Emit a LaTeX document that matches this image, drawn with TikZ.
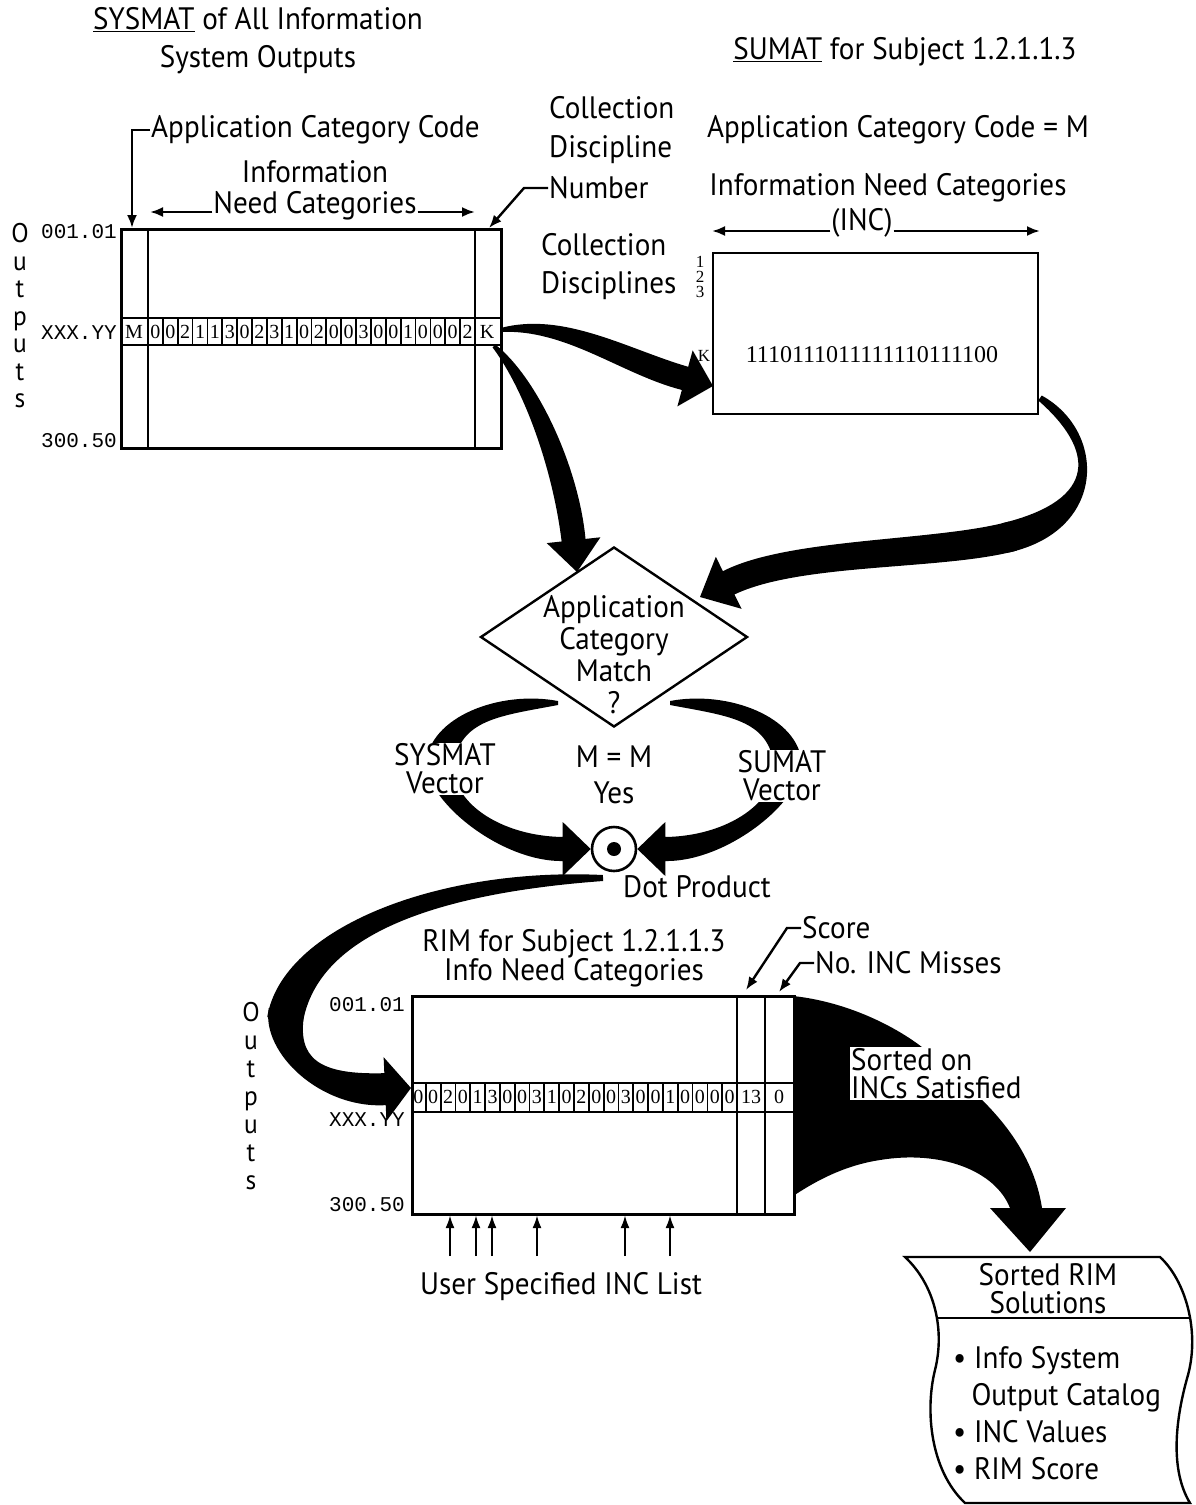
\documentclass[tikz,border=0pt]{standalone}
\usepackage{fontspec}
\setmainfont{PT Sans}[FakeStretch=0.94]
\newfontfamily\cellfont{Liberation Serif}
\newfontfamily\rowfont{Liberation Mono}
\usetikzlibrary{arrows.meta,calc,shapes.geometric}

\tikzset{
  lbl/.style={inner sep=1pt, font=\fontsize{31}{#1}\selectfont},
  lbl/.default=34,
  vert/.style={inner sep=0pt, align=center, font=\fontsize{27}{#1}\selectfont},
  box/.style={draw, line width=2.6pt, inner sep=0pt},
  cellline/.style={line width=2.2pt},
  cell/.style={inner sep=0pt, font=\cellfont\fontsize{20}{20}\selectfont},
  small/.style={inner sep=0pt, font=\cellfont\fontsize{17}{15}\selectfont},
  vecfont/.style={inner sep=0pt, font=\cellfont\fontsize{24}{24}\selectfont},
  rowlbl/.style={inner sep=1pt, font=\rowfont\fontsize{21}{21}\selectfont},
  leader/.style={line width=2.4pt, -{Latex[length=13pt,width=10pt]}},
  onarrow/.style={fill=white, inner sep=1pt},
}

% tapered curved arrow: start, control, control, tip, widths w0/w1/w2/w3, head hw/hl
\def\endfat{}
\def\fathead#1/#2\endfat{\def\fathw{#1}\def\fathl{#2}}
\newcommand\fatarrow[6]{\fatarrowi{#1}{#2}{#3}{#4}#5/#6\endfat}
\def\fatarrowi#1#2#3#4#5/#6/#7/#8/#9\endfat{%
  \fathead#9\endfat
  \coordinate (fb) at ($(#4)!\fathl pt!(#3)$);
  \fill ($(#1)!#5pt!90:(#2)$) .. controls ($(#2)!#6pt!-90:(#1)$) and ($(#3)!#7pt!90:(fb)$) .. ($(fb)!#8pt!-90:(#3)$)
    -- ($(fb)!\fathw pt!-90:(#3)$) -- (#4) -- ($(fb)!\fathw pt!90:(#3)$)
    -- ($(fb)!#8pt!90:(#3)$) .. controls ($(#3)!#7pt!-90:(fb)$) and ($(#2)!#6pt!90:(#1)$) .. ($(#1)!#5pt!-90:(#2)$) -- cycle;}
% tapered curved band without a head
\newcommand\fatseg[5]{\fatsegi{#1}{#2}{#3}{#4}#5\endfat}
\def\fatsegi#1#2#3#4#5/#6/#7/#8\endfat{%
  \fill ($(#1)!#5pt!90:(#2)$) .. controls ($(#2)!#6pt!-90:(#1)$) and ($(#3)!#7pt!90:(#4)$) .. ($(#4)!#8pt!-90:(#3)$)
    -- ($(#4)!#8pt!90:(#3)$) .. controls ($(#3)!#7pt!-90:(#4)$) and ($(#2)!#6pt!90:(#1)$) .. ($(#1)!#5pt!-90:(#2)$) -- cycle;}

\begin{document}
\begin{tikzpicture}[x=1pt,y=-1pt]
    \useasboundingbox (0,0) rectangle (1196,1505);
    \fill[white] (0,0) rectangle (1196,1505);

    % titles
    \node[lbl=38, align=center] (systitle) at (258,41) {\underline{SYSMAT} of All Information\\System Outputs};
    \node[lbl] (sumattitle) at (905,52) {\underline{SUMAT} for Subject 1.2.1.1.3};

    % SYSMAT matrix
    \node[box, minimum width=380pt, minimum height=219pt, anchor=north west] (sysmat) at (120,228) {};
    \draw[cellline] (148,228) -- (148,447);
    \draw[cellline] (475,228) -- (475,447);
    \draw[cellline] (120,318) -- (500,318);
    \draw[cellline] (120,345) -- (500,345);
    \node[cell] (sysMcell) at (134,332) {M};
    \node[cell] (sysKcell) at (487,332) {K};
    \foreach \digit [count=\i] in {0,0,2,1,1,3,0,2,3,1,0,2,0,0,3,0,0,1,0,0,0,2} {
        \draw[line width=1.8pt] ({148+\i*14.864},318) -- ({148+\i*14.864},345);
        \node[cell] (sys\i) at ({148+(\i-0.5)*14.864},332) {\digit};
    }
    \node[rowlbl, anchor=east] (sysfirst) at (118,232) {001.01};
    \node[rowlbl, anchor=east] (sysrow) at (118,333) {XXX.YY};
    \node[rowlbl, anchor=east] (syslast) at (118,441) {300.50};
    \node[vert=27.5] (sysout) at (20,316) {O\\u\\t\\p\\u\\t\\s};

    % SYSMAT labels
    \coordinate (sysMtop) at (132,228);
    \coordinate (sysKtop) at (489,228);
    \node[lbl, anchor=west] (appcode) at (150,130) {Application Category Code};
    \draw[leader] (appcode.west) -- ++(-18,0) -- (sysMtop);
    \node[lbl] (infotxt) at (315,172) {Information};
    \node[lbl] (needcat) at (315,206) {Need Categories};
    \draw[leader] ([yshift=-6pt]needcat.west) -- (150,212);
    \draw[leader] ([yshift=-6pt]needcat.east) -- (475,212);
    \node[lbl=39, align=left, anchor=west] (colldisc) at (548,130) {Collection\\Discipline};
    \node[lbl, anchor=west] (collnum) at (548,188) {Number};
    \draw[leader] (collnum.west) -- ++(-24,0) -- (sysKtop);

    % SUMAT
    \node[lbl] (sumatcode) at (898,130) {Application Category Code = M};
    \node[lbl] (sumatinc) at (888,188) {Information Need Categories};
    \node[lbl] (inc) at (862,223) {(INC)};
    \coordinate (incL) at (712,231);
    \coordinate (incR) at (1040,231);
    \draw[leader] ([yshift=-8pt]inc.west) -- (incL);
    \draw[leader] ([yshift=-8pt]inc.east) -- (incR);
    \node[lbl=38, align=left, anchor=west] (colldiscs) at (540,267) {Collection\\Disciplines};
    \node[box, line width=2.4pt, minimum width=325pt, minimum height=161pt, anchor=north west] (sumat) at (712,252) {};
    \node[small, align=center] (discnums) at (700,277) {1\\2\\3};
    \node[small] (sumK) at (704,356) {K};
    \node[vecfont] (sumvector) at (872,355) {1110111011111110111100};

    % decision
    \node[draw, diamond, line width=2.4pt, minimum width=267pt, minimum height=180pt, inner sep=0pt] (match) at (614,637) {};
    \node[lbl=32, align=center] (matchtext) at (614,655) {Application\\Category\\Match\\?};
    \node[lbl=36, align=center] (yes) at (614,775) {M = M\\Yes};

    % dot product
    \node[draw, circle, line width=2.6pt, minimum size=44pt, inner sep=0pt] (dot) at (614,849) {};
    \fill (dot.center) circle (7);
    \node[lbl] (dottext) at (697,887) {Dot Product};

    % thick arrows
    \fatarrow{501,330}{565,320}{625,362}{713,386}{2/9/13/12}{29/29}
    \fatarrow{494,346}{532,385}{566,470}{577,572}{2/9/13/12}{27/32}
    \fatseg{1040,398}{1100,440}{1104,515}{1005,538}{3/11/16/15}
    \fatarrow{1013,536}{940,556}{795,550}{700,597}{15/15/14/13}{29/32}
    % SYSMAT vector and SUMAT vector
    \fatseg{558,703}{500,703}{444,718}{440,765}{2/13/15/14}
    \fatarrow{440.3,761}{436,800}{500,849}{dot.west}{14/14/13/12}{27/28}
    \fatseg{670,703}{728,703}{784,718}{788,765}{2/13/15/14}
    \fatarrow{787.7,761}{792,800}{728,849}{dot.east}{14/14/13/12}{27/28}
    % dot product to RIM
    \fatseg{603,878}{440,880}{300,930}{285,1020}{3/13/18/18}
    \fatarrow{286.5,1011}{279,1056}{320,1092}{411,1088}{18/18/17/16}{32/26}
    \node[lbl=28, align=center, onarrow] (sysvec) at (445,769) {SYSMAT\\Vector};
    \node[lbl=28, align=center, onarrow] (sumvec) at (782,776) {SUMAT\\Vector};

    % RIM matrix
    \node[lbl=29, align=center] (rimtitle) at (574,958) {RIM for Subject 1.2.1.1.3\\Info Need Categories};
    \node[box, minimum width=382pt, minimum height=218pt, anchor=north west] (rim) at (411,995) {};
    \draw[cellline] (737,995) -- (737,1213);
    \draw[cellline] (765,995) -- (765,1213);
    \draw[cellline] (411,1083) -- (793,1083);
    \draw[cellline] (411,1112) -- (793,1112);
    \foreach \digit [count=\i] in {0,0,2,0,1,3,0,0,3,1,0,2,0,0,3,0,0,1,0,0,0,0} {
        \draw[line width=1.8pt] ({411+\i*14.82},1083) -- ({411+\i*14.82},1112);
        \node[cell] (rim\i) at ({411+(\i-0.5)*14.82},1097) {\digit};
    }
    \node[cell] (rimscore) at (751,1097) {13};
    \node[cell] (rimmiss) at (779,1097) {0};
    \node[rowlbl, anchor=east] (rimfirst) at (406,1005) {001.01};
    \node[rowlbl, anchor=east] (rimrow) at (406,1120) {XXX.YY};
    \node[rowlbl, anchor=east] (rimlast) at (406,1205) {300.50};
    \node[vert=28] (rimout) at (251,1096) {O\\u\\t\\p\\u\\t\\s};
    \coordinate (rimS) at (746,990);
    \coordinate (rimN) at (779,992);
    \node[lbl, anchor=west] (score) at (801,928) {Score};
    \draw[leader] (score.west) -- ++(-14,0) -- (rimS);
    \node[lbl, anchor=west] (misses) at (814,963) {No. INC Misses};
    \draw[leader] (misses.west) -- ++(-14,0) -- (rimN);

    % user specified INC list
    \node[lbl] (userinc) at (561,1287) {User Specified INC List};
    \foreach \x in {450,476,492,537,625,670}
        \draw[line width=2.4pt, -{Latex[length=13pt,width=9pt]}] (\x,1256) -- (\x,1215);

    % sort arrow
    \fill (793,996) .. controls (850,1002) and (905,1030) .. (935,1058)
        .. controls (965,1085) and (1030,1130) .. (1042,1208)
        -- (1066,1208) -- (1030,1252) -- (990,1208) -- (1010,1208)
        .. controls (995,1170) and (940,1150) .. (880,1160)
        .. controls (840,1166) and (810,1185) .. (793,1196) -- cycle;
    \node[lbl=28, align=left, onarrow, anchor=north west] (sorton) at (850,1047) {Sorted on\\INCs Satisfied};

    % sorted RIM solutions
    \draw[line width=2.4pt] (905,1257) -- (1160,1257)
        .. controls (1185,1280) and (1200,1330) .. (1188,1375)
        .. controls (1175,1420) and (1170,1470) .. (1190,1503)
        -- (965,1503)
        .. controls (930,1470) and (925,1410) .. (935,1370)
        .. controls (945,1330) and (935,1285) .. (905,1257) -- cycle;
    \draw[line width=2.4pt] (937,1318) -- (1190,1318);
    \node[lbl=28, align=center] (sortedtitle) at (1048,1289) {Sorted RIM\\Solutions};
    \node[lbl=37, align=left, anchor=west] (sortedlist) at (952,1413) {\textbullet\ Info System\\\phantom{\textbullet}\,Output Catalog\\\textbullet\ INC Values\\\textbullet\ RIM Score};
\end{tikzpicture}
\end{document}
